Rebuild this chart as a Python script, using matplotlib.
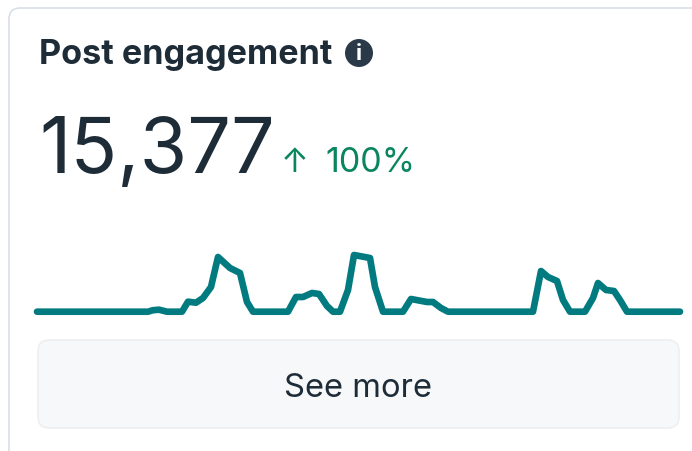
import matplotlib
matplotlib.use('Agg')
import matplotlib.pyplot as plt
from matplotlib.patches import FancyBboxPatch, Circle

plt.rcParams['font.family'] = ['Inter', 'DejaVu Sans']

title = 'Post engagement'
total = '15,377'
change = '100%'
button = 'See more'

# time position along the sparkline and engagement count
times = [0, 111, 116, 122, 130, 145, 151, 159, 166, 174, 181, 193, 203, 210, 216,
         251, 259, 266, 275, 282, 290, 296, 303, 311, 317, 333, 338, 346,
         366, 374, 390, 396, 404, 411, 496, 504, 511, 520, 526, 533, 548,
         556, 561, 569, 577, 583, 590, 643]
counts = [0, 0, 15, 20, 0, 0, 100, 90, 137, 247, 547, 437, 387, 97, 0,
          0, 147, 147, 187, 177, 57, 0, 0, 217, 567, 537, 247, 0,
          0, 127, 97, 97, 37, 0, 0, 407, 347, 307, 117, 0, 0,
          137, 287, 217, 207, 117, 0, 0]

DARK = '#1e2c38'
GREEN = '#0b8560'
TEAL = '#027b80'

fig = plt.figure(figsize=(6.92, 4.51), dpi=100)

# page layer in pixels
bg = fig.add_axes([0, 0, 1, 1])
bg.set_xlim(0, 692)
bg.set_ylim(451, 0)
bg.axis('off')

card = FancyBboxPatch((9, 8), 800, 600, boxstyle='round,pad=0,rounding_size=11',
                      fc='white', ec='#d6dde5', lw=1.1)
bg.add_patch(card)
btn = FancyBboxPatch((38, 340), 641, 88, boxstyle='round,pad=0,rounding_size=11',
                     fc='#f7f8fa', ec='#eceef1', lw=1.1)
bg.add_patch(btn)

bg.text(39, 64, title, fontsize=24.6, fontweight='bold', color=DARK, va='baseline')
bg.add_patch(Circle((359, 53), 14, fc='#2a3a48', ec='none'))
bg.text(359, 53.5, 'i', fontsize=16, fontweight='bold', color='white', ha='center', va='center')

bg.text(39, 173, total, fontsize=55.5, color=DARK, va='baseline')
bg.text(281, 172, '↑', fontsize=24, color=GREEN, va='baseline')
bg.text(325, 172, change, fontsize=24.5, color=GREEN, va='baseline')
bg.text(358.5, 397, button, fontsize=23.6, color=DARK, ha='center', va='baseline')

# sparkline
ax = fig.add_axes([37 / 692, (451 - 311.7) / 451, 643 / 692, 61.7 / 451])
ax.plot(times, counts, color=TEAL, lw=4.8, solid_capstyle='round',
        solid_joinstyle='round', clip_on=False)
ax.set_xlim(0, 643)
ax.set_ylim(0, 617)
ax.axis('off')

fig.savefig('out.png', dpi=100)
